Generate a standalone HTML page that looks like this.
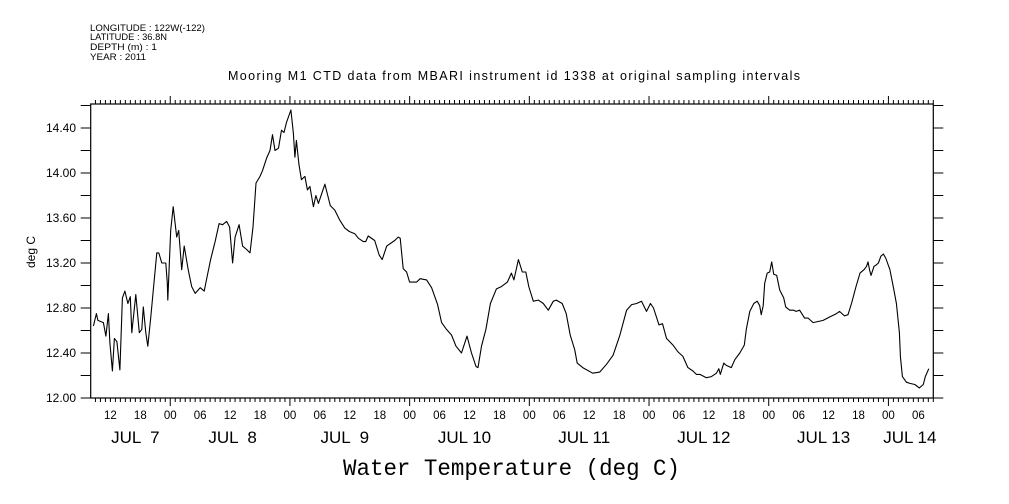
<!DOCTYPE html>
<html><head><meta charset="utf-8">
<style>
html,body{margin:0;padding:0;background:#fff;}
svg{display:block;font-family:"Liberation Sans",sans-serif;}
</style></head>
<body>
<svg id="chart" width="1009" height="504" viewBox="0 0 1009 504">
  <g font-size="9" fill="#000">
    <text x="90" y="31" textLength="115" lengthAdjust="spacingAndGlyphs">LONGITUDE : 122W(-122)</text>
    <text x="90" y="40" textLength="77" lengthAdjust="spacingAndGlyphs">LATITUDE : 36.8N</text>
    <text x="90" y="50" textLength="67" lengthAdjust="spacingAndGlyphs">DEPTH (m) : 1</text>
    <text x="90" y="60" textLength="56" lengthAdjust="spacingAndGlyphs">YEAR : 2011</text>
  </g>
  <text x="228" y="80" textLength="572" lengthAdjust="spacing" font-size="12.5">Mooring M1 CTD data from MBARI instrument id 1338 at original sampling intervals</text>
  <text transform="translate(35,252) rotate(-90)" text-anchor="middle" font-size="12">deg C</text>
  <text x="343" y="475" textLength="337" lengthAdjust="spacingAndGlyphs" font-size="23" font-family="Liberation Mono, monospace">Water Temperature (deg C)</text>
  <g id="axes"></g>
  <g id="series"></g>
</svg>
<script>
const hours = [8.6,9.2,9.5,10.6,11.1,11.6,11.9,12.4,12.8,13.3,13.9,14.4,14.9,15.5,16,16.3,17.1,17.8,18.3,18.6,19.1,19.5,20.1,20.6,21.3,21.7,22.3,23.1,23.4,23.5,24.1,24.6,25.3,25.7,26.3,26.8,27.6,28.3,29,30,30.8,31.3,32.1,33,33.8,34.5,35.3,35.9,36.5,37,37.8,38.5,39.3,40,40.6,41.2,42,42.5,43.3,44,44.5,45,45.7,46.3,46.8,47.3,48.2,48.7,49,49.3,49.8,50.3,51,51.5,52,52.7,53.2,53.7,55,56.1,57,58,59,59.9,61,61.7,62.7,63.2,63.7,65,65.9,66.5,67.4,69,69.7,70.1,70.7,71.4,72,73.4,74.1,75.4,76.4,77.6,78.4,79.4,80.4,81.3,82.4,83.5,84.4,85.3,85.7,86.4,87.3,88.2,89.4,90.4,91.6,92.4,92.9,93.8,94.6,95.3,95.9,96.8,97.8,98.8,99.8,100.8,101.4,102.6,103.4,104.2,105.1,105.6,106.7,108.7,110.1,111.5,112.8,114.1,115.5,116.5,117.5,118.5,119.5,120.3,120.9,122,122.7,123.5,124.8,125.8,126.8,127.8,128.8,129.5,130.2,131.5,132.5,133.5,134,134.3,135,135.5,136.5,137.2,138.2,139.1,139.5,140.2,141,141.7,142.2,142.5,142.9,143.2,143.7,144.2,144.6,145,145.6,146.2,147,147.4,148.2,149,149.5,150.2,151.2,151.9,152.9,153.9,154.9,156.2,157.6,158.2,159.2,159.9,160.6,161.5,162.3,163.1,163.6,163.9,164.2,164.5,165.1,165.5,166,166.5,167,167.5,168.3,169.1,169.6,170.2,170.4,170.8,171.6,172.3,173.3,174.2,175,175.4,176.1];
const temps = [12.64,12.75,12.69,12.67,12.55,12.75,12.49,12.24,12.53,12.50,12.25,12.89,12.95,12.84,12.90,12.58,12.92,12.58,12.61,12.81,12.58,12.46,12.72,12.96,13.29,13.29,13.20,13.20,13.02,12.87,13.49,13.70,13.43,13.49,13.14,13.35,13.14,12.99,12.93,12.98,12.95,13.06,13.23,13.39,13.55,13.54,13.57,13.52,13.20,13.43,13.54,13.35,13.32,13.29,13.52,13.91,13.97,14.02,14.13,14.20,14.34,14.20,14.22,14.38,14.36,14.45,14.56,14.35,14.14,14.29,14.08,13.94,13.97,13.85,13.88,13.70,13.80,13.73,13.90,13.71,13.67,13.58,13.51,13.48,13.46,13.42,13.39,13.39,13.44,13.40,13.27,13.23,13.35,13.40,13.43,13.42,13.15,13.12,13.03,13.03,13.06,13.05,12.98,12.83,12.67,12.61,12.56,12.46,12.40,12.55,12.40,12.28,12.27,12.46,12.61,12.84,12.97,12.99,13.03,13.11,13.05,13.23,13.12,13.12,12.99,12.86,12.87,12.84,12.78,12.86,12.87,12.84,12.75,12.56,12.43,12.31,12.27,12.22,12.23,12.30,12.38,12.55,12.78,12.83,12.84,12.86,12.77,12.84,12.80,12.65,12.66,12.53,12.47,12.41,12.37,12.27,12.24,12.21,12.21,12.18,12.19,12.22,12.26,12.21,12.31,12.29,12.27,12.34,12.40,12.47,12.61,12.77,12.84,12.86,12.82,12.74,12.82,13.02,13.11,13.12,13.21,13.10,13.09,12.96,12.89,12.81,12.78,12.78,12.77,12.78,12.71,12.71,12.67,12.68,12.69,12.72,12.75,12.77,12.73,12.74,12.84,12.99,13.11,13.14,13.17,13.21,13.14,13.09,13.17,13.18,13.20,13.26,13.28,13.24,13.14,12.96,12.84,12.58,12.37,12.19,12.14,12.13,12.12,12.09,12.12,12.19,12.26];
const yTickLabels = ["12.00","12.40","12.80","13.20","13.60","14.00","14.40"];
const hourTickLabels = ["12","18","00","06","12","18","00","06","12","18","00","06","12","18","00","06","12","18","00","06","12","18","00","06","12","18","00","06"];
const dayLabels = ["JUL  7","JUL  8","JUL  9","JUL 10","JUL 11","JUL 12","JUL 13","JUL 14"];
const dayLabelHours = [17,36.5,59,83,107,131,155,172.3];

const X0=90.7, X1=933.3, Y0=398, Y1=104;
const H0=8.05, H1=177, V0=12.0, V1=14.6133;
function xs(h){return X0+(h-H0)*(X1-X0)/(H1-H0);}
function ys(v){return Y0-(v-V0)*(Y0-Y1)/(V1-V0);}
const NS="http://www.w3.org/2000/svg";
const axes=document.getElementById('axes');
function el(tag,attrs,parent){const e=document.createElementNS(NS,tag);for(const k in attrs)e.setAttribute(k,attrs[k]);parent.appendChild(e);return e;}

const frame=el('rect',{x:X0,y:Y1,width:X1-X0,height:Y0-Y1,fill:'none',stroke:'#000','stroke-width':1.2},axes);



for(let i=0;i<=13;i++){
  const v=V0+i*0.2; if(v>V1) break;
  const y=ys(v);
  const tl=el('line',{x1:X0-10,x2:X0,y1:y,y2:y,stroke:'#000','stroke-width':1},axes);
  
  
  const tr=el('line',{x1:X1,x2:X1+10,y1:y,y2:y,stroke:'#000','stroke-width':1},axes);
  
  
}
yTickLabels.forEach(s=>{
  const t=el('text',{x:76,y:ys(parseFloat(s))+4,'text-anchor':'end','font-size':12},axes);
  t.textContent=s;
  
  
});
for(let h=Math.ceil(H0);h<=H1;h++){
  const x=xs(h); const major=(h%24===0);
  const len=major?8:4;
  const tt=el('line',{x1:x,x2:x,y1:Y1,y2:Y1-len,stroke:'#000','stroke-width':1},axes);
  
  
  const tb=el('line',{x1:x,x2:x,y1:Y0,y2:Y0+len,stroke:'#000','stroke-width':1},axes);
  
  
}
hourTickLabels.forEach((s,i)=>{
  const h=12+6*i;
  const t=el('text',{x:xs(h),y:419,'text-anchor':'middle','font-size':11.5},axes);
  t.textContent=s;
  
  
});
dayLabels.forEach((s,i)=>{
  const t=el('text',{x:xs(dayLabelHours[i]),y:443,'text-anchor':'middle','font-size':17},axes);
  t.style.whiteSpace='pre';
  t.textContent=s;
  
  
});
const pts=hours.map((h,i)=>xs(h).toFixed(1)+','+ys(temps[i]).toFixed(1)).join(' ');
const line=el('polyline',{points:pts,fill:'none',stroke:'#000','stroke-width':1.1,'stroke-linejoin':'round'},document.getElementById('series'));


</script>
</body></html>
